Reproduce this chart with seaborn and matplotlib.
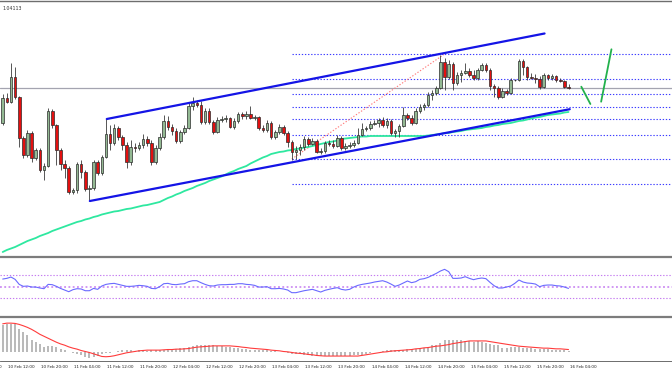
import numpy as np
import pandas as pd
import matplotlib
matplotlib.use("Agg")
import matplotlib.pyplot as plt
import seaborn as sns

sns.set_style("white")
plt.rcParams["font.family"] = ["DejaVu Sans"]

# === H1 candles, first bar = 10 Feb 11:00 ===
bar_start = "2017-02-10 11:00"

open_ = [1.0585, 1.0610, 1.0606, 1.0631, 1.0611, 1.0570, 1.0553, 1.0575, 1.0550, 1.0558,
         1.0538, 1.0542, 1.0597, 1.0583, 1.0558, 1.0544, 1.0540, 1.0516, 1.0518, 1.0544,
         1.0536, 1.0519, 1.0520, 1.0546, 1.0535, 1.0551, 1.0574, 1.0565, 1.0580, 1.0571,
         1.0563, 1.0546, 1.0561, 1.0560, 1.0563, 1.0569, 1.0565, 1.0546, 1.0560, 1.0571,
         1.0587, 1.0581, 1.0577, 1.0567, 1.0576, 1.0580, 1.0602, 1.0605, 1.0603, 1.0586,
         1.0597, 1.0586, 1.0576, 1.0588, 1.0589, 1.0590, 1.0581, 1.0587, 1.0594, 1.0592,
         1.0594, 1.0590, 1.0591, 1.0580, 1.0578, 1.0585, 1.0571, 1.0576, 1.0581, 1.0575,
         1.0566, 1.0556, 1.0558, 1.0561, 1.0569, 1.0564, 1.0567, 1.0556, 1.0557, 1.0565,
         1.0564, 1.0562, 1.0570, 1.0560, 1.0562, 1.0563, 1.0565, 1.0573, 1.0579, 1.0580,
         1.0584, 1.0585, 1.0588, 1.0583, 1.0587, 1.0575, 1.0577, 1.0582, 1.0593, 1.0590,
         1.0585, 1.0597, 1.0601, 1.0603, 1.0613, 1.0615, 1.0620, 1.0646, 1.0631, 1.0644,
         1.0625, 1.0633, 1.0635, 1.0637, 1.0633, 1.0630, 1.0638, 1.0643, 1.0638, 1.0622,
         1.0620, 1.0611, 1.0617, 1.0615, 1.0628, 1.0628, 1.0647, 1.0641, 1.0631, 1.0630,
         1.0629, 1.0621, 1.0633, 1.0630, 1.0632, 1.0628, 1.0627, 1.0621]
high_ = [1.0614, 1.0615, 1.0645, 1.0641, 1.0612, 1.0572, 1.0578, 1.0577, 1.0560, 1.0560,
         1.0545, 1.0600, 1.0599, 1.0584, 1.0560, 1.0548, 1.0542, 1.0520, 1.0546, 1.0548,
         1.0538, 1.0523, 1.0548, 1.0548, 1.0553, 1.0589, 1.0583, 1.0584, 1.0582, 1.0573,
         1.0566, 1.0568, 1.0565, 1.0566, 1.0574, 1.0572, 1.0568, 1.0563, 1.0575, 1.0593,
         1.0592, 1.0584, 1.0580, 1.0578, 1.0583, 1.0605, 1.0611, 1.0608, 1.0607, 1.0600,
         1.0600, 1.0588, 1.0591, 1.0592, 1.0593, 1.0591, 1.0590, 1.0596, 1.0596, 1.0597,
         1.0602, 1.0593, 1.0592, 1.0583, 1.0588, 1.0587, 1.0578, 1.0584, 1.0583, 1.0577,
         1.0568, 1.0562, 1.0564, 1.0572, 1.0571, 1.0570, 1.0569, 1.0560, 1.0567, 1.0568,
         1.0568, 1.0573, 1.0572, 1.0565, 1.0566, 1.0568, 1.0580, 1.0585, 1.0582, 1.0587,
         1.0588, 1.0590, 1.0591, 1.0590, 1.0589, 1.0579, 1.0584, 1.0601, 1.0595, 1.0593,
         1.0600, 1.0604, 1.0605, 1.0616, 1.0618, 1.0622, 1.0653, 1.0650, 1.0648, 1.0646,
         1.0636, 1.0638, 1.0645, 1.0640, 1.0638, 1.0640, 1.0645, 1.0645, 1.0640, 1.0624,
         1.0622, 1.0620, 1.0619, 1.0630, 1.0629, 1.0649, 1.0649, 1.0642, 1.0635, 1.0634,
         1.0632, 1.0635, 1.0634, 1.0634, 1.0633, 1.0630, 1.0628, 1.0624]
low_ = [1.0583, 1.0605, 1.0605, 1.0609, 1.0561, 1.0550, 1.0551, 1.0546, 1.0548, 1.0536,
        1.0528, 1.0541, 1.0580, 1.0543, 1.0538, 1.0530, 1.0514, 1.0514, 1.0515, 1.0530,
        1.0517, 1.0508, 1.0518, 1.0533, 1.0533, 1.0550, 1.0558, 1.0563, 1.0568, 1.0558,
        1.0540, 1.0543, 1.0556, 1.0558, 1.0560, 1.0562, 1.0543, 1.0544, 1.0558, 1.0569,
        1.0578, 1.0573, 1.0565, 1.0565, 1.0574, 1.0579, 1.0598, 1.0601, 1.0584, 1.0584,
        1.0584, 1.0574, 1.0575, 1.0586, 1.0586, 1.0580, 1.0579, 1.0585, 1.0589, 1.0589,
        1.0589, 1.0588, 1.0578, 1.0576, 1.0576, 1.0569, 1.0569, 1.0574, 1.0573, 1.0561,
        1.0548, 1.0549, 1.0553, 1.0558, 1.0562, 1.0563, 1.0555, 1.0554, 1.0555, 1.0562,
        1.0560, 1.0561, 1.0558, 1.0558, 1.0560, 1.0561, 1.0564, 1.0572, 1.0577, 1.0578,
        1.0583, 1.0581, 1.0581, 1.0580, 1.0573, 1.0571, 1.0571, 1.0581, 1.0588, 1.0583,
        1.0584, 1.0595, 1.0598, 1.0601, 1.0608, 1.0613, 1.0619, 1.0618, 1.0629, 1.0618,
        1.0623, 1.0626, 1.0634, 1.0631, 1.0628, 1.0628, 1.0637, 1.0636, 1.0618, 1.0611,
        1.0609, 1.0610, 1.0613, 1.0614, 1.0627, 1.0627, 1.0633, 1.0628, 1.0629, 1.0625,
        1.0619, 1.0620, 1.0628, 1.0628, 1.0626, 1.0626, 1.0620, 1.0619]
close_ = [1.0610, 1.0606, 1.0631, 1.0611, 1.0570, 1.0553, 1.0575, 1.0550, 1.0558, 1.0538,
          1.0542, 1.0597, 1.0583, 1.0558, 1.0544, 1.0540, 1.0516, 1.0518, 1.0544, 1.0536,
          1.0519, 1.0520, 1.0546, 1.0535, 1.0551, 1.0574, 1.0565, 1.0580, 1.0571, 1.0563,
          1.0546, 1.0561, 1.0560, 1.0563, 1.0569, 1.0565, 1.0546, 1.0560, 1.0571, 1.0587,
          1.0581, 1.0577, 1.0567, 1.0576, 1.0580, 1.0602, 1.0605, 1.0603, 1.0586, 1.0597,
          1.0586, 1.0576, 1.0588, 1.0589, 1.0590, 1.0581, 1.0587, 1.0594, 1.0592, 1.0594,
          1.0590, 1.0591, 1.0580, 1.0578, 1.0585, 1.0571, 1.0576, 1.0581, 1.0575, 1.0566,
          1.0556, 1.0558, 1.0561, 1.0569, 1.0564, 1.0567, 1.0556, 1.0557, 1.0565, 1.0564,
          1.0562, 1.0570, 1.0560, 1.0562, 1.0563, 1.0565, 1.0573, 1.0579, 1.0580, 1.0584,
          1.0585, 1.0588, 1.0583, 1.0587, 1.0575, 1.0577, 1.0582, 1.0593, 1.0590, 1.0585,
          1.0597, 1.0601, 1.0603, 1.0613, 1.0615, 1.0620, 1.0646, 1.0631, 1.0644, 1.0625,
          1.0633, 1.0635, 1.0637, 1.0633, 1.0630, 1.0638, 1.0643, 1.0638, 1.0622, 1.0620,
          1.0611, 1.0617, 1.0615, 1.0628, 1.0628, 1.0647, 1.0641, 1.0631, 1.0630, 1.0629,
          1.0621, 1.0633, 1.0630, 1.0632, 1.0628, 1.0627, 1.0621, 1.0620]

# moving average (green)
ema = [1.0456, 1.0458, 1.04595, 1.0461, 1.0463, 1.0465, 1.0467, 1.04685, 1.0470, 1.0472,
       1.04735, 1.0475, 1.0477, 1.04785, 1.0480, 1.04815, 1.0483, 1.04845, 1.0486, 1.0487,
       1.04885, 1.04895, 1.0491, 1.0492, 1.04935, 1.04945, 1.04955, 1.04965, 1.0497, 1.0498,
       1.0499, 1.04995, 1.05005, 1.05015, 1.05025, 1.0503, 1.0504, 1.0505, 1.0506, 1.0508,
       1.0510, 1.05115, 1.05135, 1.0515, 1.0517, 1.05185, 1.0520, 1.0522, 1.05235, 1.0525,
       1.0527, 1.05285, 1.0530, 1.05315, 1.05335, 1.05355, 1.0537, 1.0539, 1.05405, 1.0542,
       1.05445, 1.05465, 1.05485, 1.05505, 1.0552, 1.0554, 1.0555, 1.0556, 1.05565, 1.05575,
       1.0558, 1.0559, 1.05595, 1.05605, 1.0561, 1.0562, 1.0563, 1.0564, 1.0565, 1.0566,
       1.05665, 1.05675, 1.0569, 1.05695, 1.0570, 1.05705, 1.0571, 1.05715, 1.05715, 1.0572,
       1.0572, 1.0572, 1.0572, 1.0572, 1.0572, 1.0572, 1.0572, 1.0572, 1.0572, 1.0572,
       1.0572, 1.0572, 1.0572, 1.05725, 1.0573, 1.05735, 1.0574, 1.0575, 1.0575, 1.0576,
       1.05765, 1.0577, 1.0578, 1.05785, 1.0579, 1.05795, 1.0580, 1.0581, 1.05815, 1.05825,
       1.0583, 1.0584, 1.05845, 1.0585, 1.0586, 1.0587, 1.05875, 1.05885, 1.05895, 1.05905,
       1.0591, 1.0592, 1.0593, 1.05935, 1.0594, 1.05945, 1.05955, 1.0596]

rsi = [63.3, 64.5, 66.8, 62.8, 54.0, 50.6, 51.2, 49.4, 49.4, 47.7,
       46.5, 54.0, 53.5, 50.6, 47.0, 44.2, 41.3, 44.8, 46.5, 46.0,
       43.0, 43.0, 47.0, 45.4, 51.2, 54.0, 55.2, 55.8, 54.0, 52.3,
       50.6, 50.6, 51.2, 52.3, 51.7, 50.6, 47.0, 46.5, 50.0, 55.2,
       55.8, 54.0, 53.5, 54.6, 55.2, 58.7, 60.4, 60.4, 57.0, 54.0,
       51.7, 51.2, 52.9, 53.5, 53.5, 54.0, 54.0, 55.2, 55.2, 54.0,
       53.5, 52.3, 49.4, 49.4, 50.0, 46.5, 46.5, 47.0, 46.0, 44.2,
       39.6, 39.6, 41.3, 43.0, 44.2, 45.4, 43.0, 40.7, 43.6, 45.4,
       47.0, 48.3, 45.4, 44.2, 45.4, 49.4, 52.3, 54.0, 55.2, 56.4,
       58.1, 59.3, 60.4, 58.1, 54.6, 50.6, 52.9, 56.4, 59.9, 57.0,
       58.7, 62.8, 63.9, 66.2, 69.7, 73.2, 77.3, 80.2, 76.1, 64.5,
       64.5, 65.1, 67.4, 64.5, 62.2, 64.0, 65.1, 64.0, 57.5, 51.7,
       47.7, 47.7, 49.4, 51.2, 55.8, 61.6, 58.1, 56.4, 55.8, 54.6,
       50.0, 52.3, 52.9, 52.9, 51.7, 51.2, 49.4, 47.0]
rsi_levels = [70, 50, 30]

# MACD in pips
macd_hist = [26.7, 28.3, 28.3, 27.7, 23.3, 20.0, 16.7, 12.3, 10.0, 7.7,
             5.0, 6.0, 6.0, 5.0, 3.3, 1.7, 0.0, -1.7, -2.3, -3.3,
             -5.0, -6.7, -5.7, -4.3, -2.3, -1.7, -1.0, 0.3, 0.7, 1.7,
             1.7, 1.7, 1.0, 1.7, 1.7, 1.0, 1.7, 1.7, 1.7, 2.3,
             3.3, 3.3, 3.3, 4.0, 4.3, 5.0, 5.7, 6.7, 7.3, 7.3,
             6.7, 6.7, 6.0, 6.0, 5.0, 5.0, 4.0, 4.0, 3.3, 3.3,
             2.3, 2.3, 1.7, 1.7, 1.7, 1.0, 0.7, 0.0, -0.7, -1.7,
             -2.3, -2.3, -2.3, -3.3, -3.3, -4.3, -4.3, -4.3, -4.3, -4.3,
             -4.3, -4.3, -4.3, -4.0, -4.0, -3.7, -3.3, -3.0, -2.3, -1.3,
             0.0, 0.3, 0.7, 1.7, 2.3, 2.3, 2.3, 2.3, 3.0, 3.0,
             3.3, 3.7, 4.0, 5.0, 6.7, 6.7, 9.0, 11.7, 12.3, 12.3,
             12.3, 11.7, 11.0, 10.7, 10.0, 11.0, 10.0, 9.0, 8.3, 7.0,
             6.7, 4.3, 4.0, 5.0, 5.0, 5.0, 4.3, 4.0, 4.0, 3.3,
             3.0, 3.0, 3.0, 2.3, 2.3, 2.0, 1.7, 0.7]
macd_signal = [28.3, 29.0, 29.0, 28.7, 27.7, 26.3, 24.7, 22.7, 20.3, 17.7,
               15.7, 13.7, 11.7, 9.7, 8.0, 6.7, 5.0, 3.7, 2.7, 1.3,
               0.3, -0.7, -2.0, -3.3, -4.7, -5.0, -4.7, -4.0, -3.0, -2.0,
               -1.0, -0.3, 0.3, 1.0, 1.3, 1.7, 1.7, 1.7, 1.7, 2.0,
               2.3, 2.3, 2.7, 2.7, 3.0, 3.3, 4.0, 4.7, 5.0, 5.3,
               5.7, 6.0, 6.0, 6.0, 6.0, 6.0, 5.7, 5.3, 4.7, 4.3,
               3.7, 3.3, 3.0, 2.7, 2.3, 1.7, 1.3, 1.0, 0.3, 0.0,
               -0.7, -1.3, -1.7, -2.0, -2.7, -3.0, -3.7, -4.0, -4.3, -4.3,
               -4.3, -4.3, -4.3, -4.3, -4.3, -4.3, -4.3, -3.7, -3.0, -2.3,
               -1.7, -1.0, -0.3, 0.0, 0.7, 1.0, 1.3, 1.7, 2.0, 2.3,
               3.0, 3.3, 4.0, 4.3, 5.0, 5.7, 6.0, 6.7, 7.3, 8.3,
               9.0, 9.7, 10.3, 11.0, 11.0, 11.0, 11.0, 11.0, 10.3, 9.7,
               9.0, 8.3, 7.7, 7.0, 6.3, 5.7, 5.3, 5.0, 4.7, 4.3,
               4.0, 3.7, 3.7, 3.3, 3.0, 3.0, 2.7, 2.3]

# drawings (bar index, price)
channel_top_x = [25.2, 131.2]
channel_top_y = [1.0589, 1.06745]
channel_bot_x = [21.1, 137.3]
channel_bot_y = [1.0507, 1.05988]
fib_levels = [1.0654, 1.0629, 1.0614, 1.0601, 1.0589, 1.0573, 1.0549, 1.0524]
fib_start = 70
fib_diag_x = [70, 107]
fib_diag_y = [1.0549, 1.0654]
bid_price = 1.0620
arrow1_x = [140.1, 142.3]
arrow1_y = [1.06213, 1.0604]
arrow2_x = [144.9, 147.4]
arrow2_y = [1.06063, 1.06587]
corner_label = "1.04113"

n = len(close_)
x = np.arange(n)
o = np.array(open_)
h = np.array(high_)
l = np.array(low_)
c = np.array(close_)
x_min, x_max = -0.654, 162.06

fig = plt.figure(figsize=(6.72, 3.72), dpi=100)
ax = fig.add_axes([0, 0.31183, 1, 0.68414])
ax_rsi = fig.add_axes([0, 0.15054, 1, 0.15726])
ax_macd = fig.add_axes([0, 0.02957, 1, 0.11694])

for a in (ax, ax_rsi, ax_macd):
    a.set_xlim(x_min, x_max)
    a.set_yticks([])
    for s in a.spines.values():
        s.set_visible(False)
    a.set_facecolor("white")

# === main price panel ===
ax.set_ylim(1.0452, 1.07065)
ax.spines["top"].set_visible(True)
ax.spines["top"].set_color("#6e6e6e")
ax.spines["top"].set_linewidth(1.0)
ax.set_xticks([])

ax.axhline(bid_price, color="#a4a4b0", lw=0.9, zorder=1)
ax.hlines(fib_levels, fib_start, x_max, colors="#3c3cff", linestyles=(0, (1.2, 1.6)), lw=0.8, zorder=1)
ax.plot(fib_diag_x, fib_diag_y, color="#ff7a7a", ls=(0, (1.2, 1.6)), lw=0.8, zorder=1)

sns.lineplot(x=x, y=ema, ax=ax, color="#2ee8a0", lw=1.3, zorder=2)

up = c > o
dn = c < o
flat = c == o
body_lo = np.minimum(o, c)
body_h = np.maximum(np.abs(c - o), 0.00003)
ax.vlines(x, l, h, color="#3a3a3a", lw=0.6, zorder=3)
ax.bar(x[up], body_h[up], bottom=body_lo[up], width=0.62, color="#93b993",
       edgecolor="#2b2b2b", lw=0.5, zorder=4)
ax.bar(x[dn], body_h[dn], bottom=body_lo[dn], width=0.62, color="#e31010",
       edgecolor="#2b2b2b", lw=0.5, zorder=4)
ax.bar(x[flat], body_h[flat], bottom=body_lo[flat], width=0.62, color="#111111",
       edgecolor="#111111", lw=0.5, zorder=4)

ax.plot(channel_top_x, channel_top_y, color="#1414e6", lw=1.6, zorder=5)
ax.plot(channel_bot_x, channel_bot_y, color="#1414e6", lw=1.6, zorder=5)
ax.plot(arrow1_x, arrow1_y, color="#22b14c", lw=1.3, zorder=5)
ax.plot(arrow2_x, arrow2_y, color="#22b14c", lw=1.3, zorder=5)

ax.text(0.003, 0.982, corner_label, transform=ax.transAxes, fontsize=3.4,
        color="#333333", va="top", ha="left")

# === RSI panel ===
ax_rsi.set_ylim(-1, 100.8)
ax_rsi.spines["top"].set_visible(True)
ax_rsi.spines["top"].set_color("#7c7c7c")
ax_rsi.spines["top"].set_linewidth(1.6)
ax_rsi.set_xticks([])
for lev in rsi_levels:
    ax_rsi.axhline(lev, color="#c47af0", lw=1.1 if lev == 50 else 0.8,
                   ls=(0, (1.2, 1.6)), zorder=1)
sns.lineplot(x=x, y=rsi, ax=ax_rsi, color="#6a6aff", lw=0.8, zorder=2)
ax_rsi.set_ylabel("")

# === MACD panel ===
ax_macd.set_ylim(-9.3, 34.7)
ax_macd.spines["top"].set_visible(True)
ax_macd.spines["top"].set_color("#7c7c7c")
ax_macd.spines["top"].set_linewidth(1.6)
ax_macd.vlines(x, 0, macd_hist, color="#a6a6a6", lw=1.1, zorder=1)
sns.lineplot(x=x, y=macd_signal, ax=ax_macd, color="#ff3c3c", lw=0.8, zorder=2)
ax_macd.set_ylabel("")

# time axis labels every 8 hours
tick_idx = np.arange(-7, n, 8)
tick_times = pd.Timestamp(bar_start) + pd.to_timedelta(tick_idx, unit="h")
tick_labels = [t.strftime("%d %b %H:%M") for t in tick_times]
visible = tick_idx >= x_min
ax_macd.set_xticks(tick_idx[visible])
ax_macd.set_xticklabels([""] * int(visible.sum()))
ax_macd.tick_params(axis="x", length=2.2, width=0.5, color="#333333", pad=0)
ax_macd.spines["bottom"].set_visible(True)
ax_macd.spines["bottom"].set_color("#555555")
ax_macd.spines["bottom"].set_linewidth(0.6)
for xi, lab in zip(tick_idx, tick_labels):
    ax_macd.text(xi + 0.3, -0.085, lab, transform=ax_macd.get_xaxis_transform(),
                 fontsize=3.0, color="#222222", ha="left", va="top", clip_on=False)

fig.savefig("out.png", dpi=100)
